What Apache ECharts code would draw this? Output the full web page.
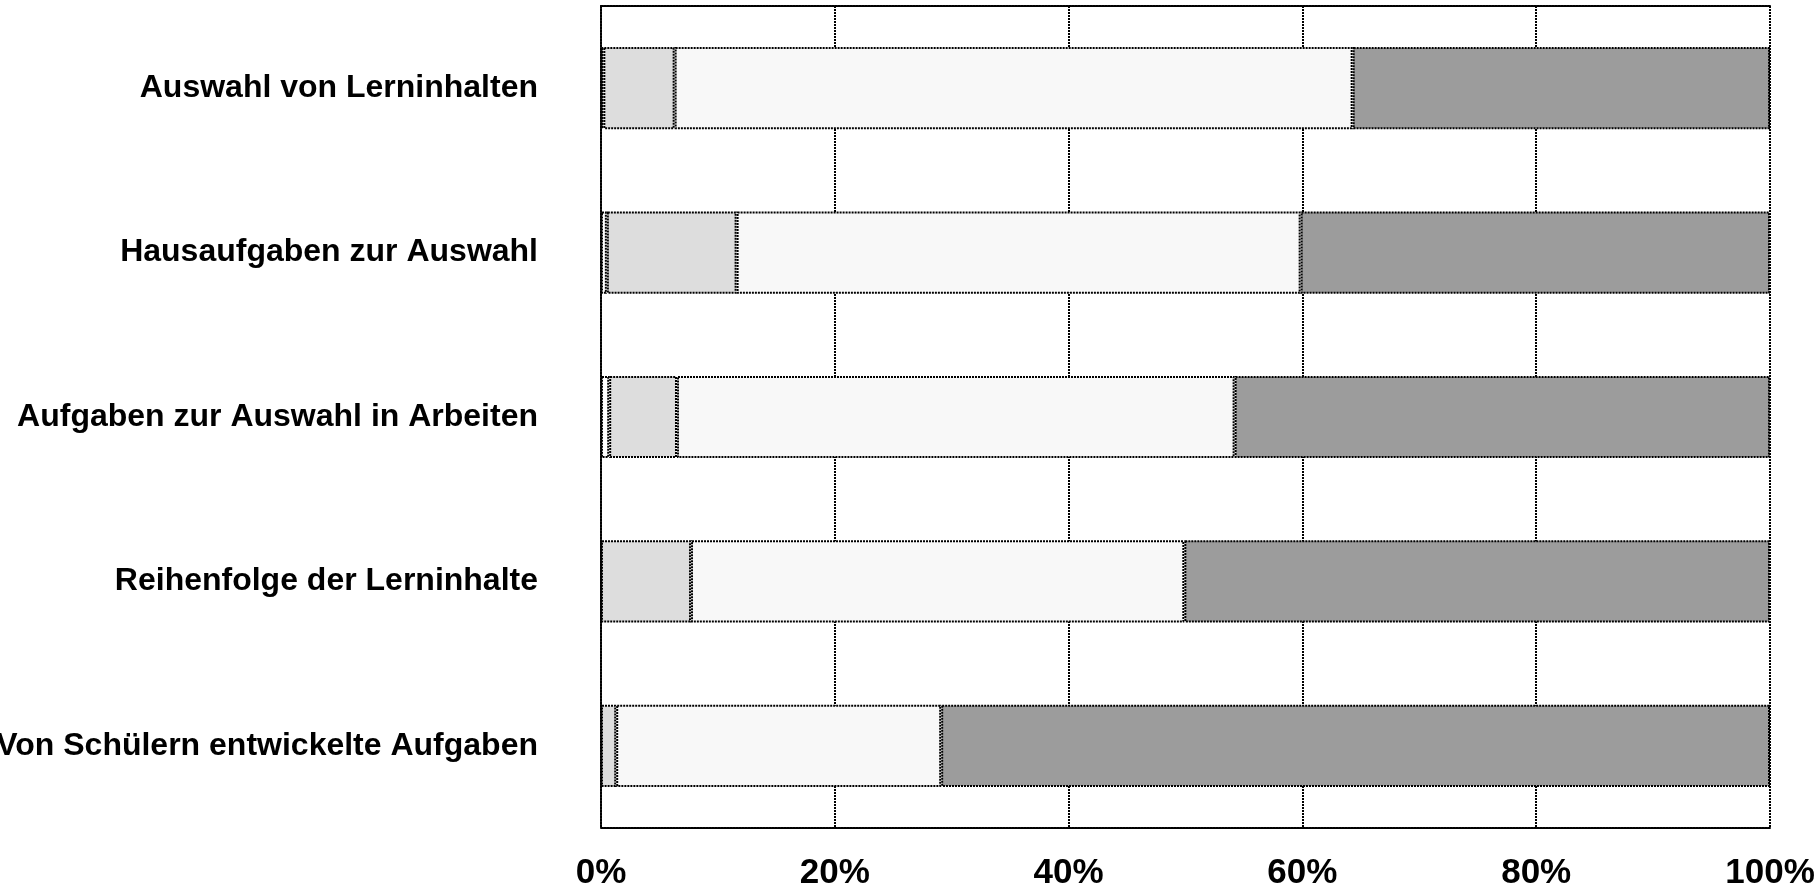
<!DOCTYPE html>
<html>
<head>
<meta charset="utf-8">
<script src="https://cdn.jsdelivr.net/npm/echarts@6/dist/echarts.min.js"></script>
<style>
  html, body { margin: 0; padding: 0; background: #ffffff; }
  #chart { width: 1814px; height: 888px; }
</style>
</head>
<body>
<div id="chart"></div>
<script>
// Categories, top to bottom
const categories = [
  'Auswahl von Lerninhalten',
  'Hausaufgaben zur Auswahl',
  'Aufgaben zur Auswahl in Arbeiten',
  'Reihenfolge der Lerninhalte',
  'Von Schülern entwickelte Aufgaben'
];

// Stacked shares in percent, one array per segment (left to right)
const segmentA = [0.2, 0.5, 0.7, 0, 0];
const segmentB = [6.1, 11.1, 5.8, 7.7, 1.3];
const segmentC = [58.0, 48.25, 47.7, 42.2, 27.8];
const segmentD = [35.7, 40.15, 45.8, 50.1, 70.9];

const xTicks = [0, 20, 40, 60, 80, 100];

const segments = [
  { name: 'A', data: segmentA, color: '#ffffff' },
  { name: 'B', data: segmentB, color: '#dddddd' },
  { name: 'C', data: segmentC, color: '#f8f8f8' },
  { name: 'D', data: segmentD, color: '#9c9c9c' }
];

const dotted = { color: '#000000', width: 2, type: [2, 1] };

const chart = echarts.init(document.getElementById('chart'), null, { renderer: 'canvas' });

chart.setOption({
  backgroundColor: '#ffffff',
  animation: false,
  grid: {
    left: 601, right: 44, top: 6, bottom: 60,
    containLabel: false,
    outerBoundsMode: 'none'
  },
  xAxis: [
    {
      type: 'value',
      min: 0, max: 100, interval: 20,
      position: 'bottom',
      axisLine: { show: true, lineStyle: dotted },
      axisTick: { show: false },
      splitLine: { show: true, lineStyle: dotted },
      axisLabel: {
        margin: 28,
        color: '#000000',
        fontFamily: 'Liberation Sans, Arial, sans-serif',
        fontWeight: 'bold',
        fontSize: 35,
        formatter: v => xTicks.includes(v) ? v + '%' : ''
      }
    },
    {
      type: 'value',
      min: 0, max: 100, interval: 20,
      position: 'top',
      axisLine: { show: true, lineStyle: dotted },
      axisTick: { show: false },
      splitLine: { show: false },
      axisLabel: { show: false }
    }
  ],
  yAxis: {
    type: 'category',
    data: categories,
    inverse: true,
    axisLine: { show: true, lineStyle: dotted },
    axisTick: { show: false },
    splitLine: { show: false },
    axisLabel: {
      margin: 63,
      color: '#000000',
      fontFamily: 'Liberation Sans, Arial, sans-serif',
      fontWeight: 'bold',
      fontSize: 32,
      padding: [4, 0, 0, 0]
    }
  },
  series: segments.map(s => ({
    type: 'bar',
    name: s.name,
    stack: 'total',
    data: s.data,
    barWidth: '50%',
    itemStyle: {
      color: s.color,
      borderColor: '#000000',
      borderWidth: 2,
      borderType: [2, 1]
    }
  }))
});
</script>
</body>
</html>
